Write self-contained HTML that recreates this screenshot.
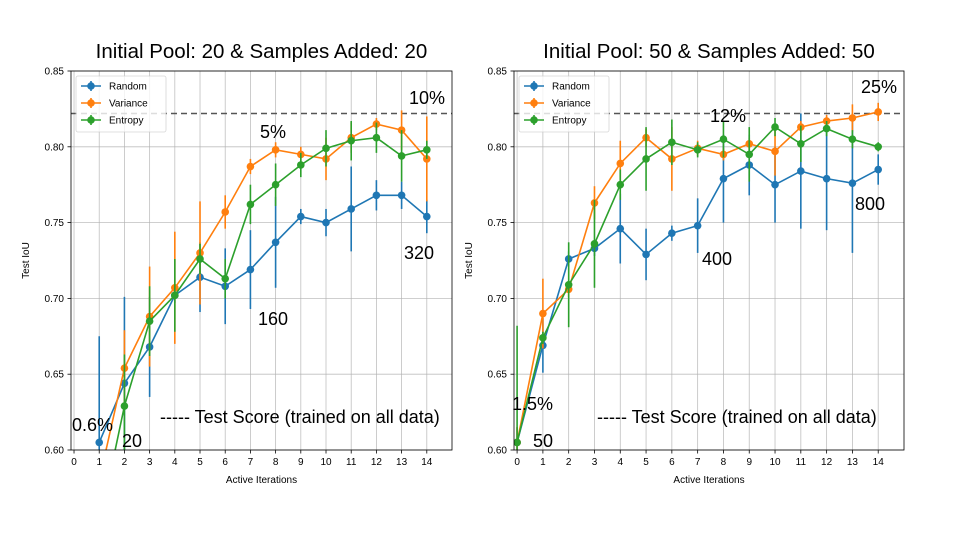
<!DOCTYPE html>
<html><head><meta charset="utf-8"><style>
body{margin:0;background:#fff;}
svg{display:block;font-family:"Liberation Sans","DejaVu Sans",sans-serif;}
</style></head><body>
<svg id="chart" width="960" height="540" xmlns="http://www.w3.org/2000/svg"></svg>
<script>
const iterations = [0,1,2,3,4,5,6,7,8,9,10,11,12,13,14];
const yTicks = [0.60,0.65,0.70,0.75,0.80,0.85];
const seriesNames = ["Random","Variance","Entropy"];
const seriesColors = ["#1f77b4","#ff7f0e","#2ca02c"];
// Left panel (pool 20), iterations 1..14
const leftX = [1,2,3,4,5,6,7,8,9,10,11,12,13,14];
const leftRandom = [0.605,0.644,0.668,0.702,0.714,0.708,0.719,0.737,0.754,0.750,0.759,0.768,0.768,0.754];
const leftRandomErr = [0.07,0.057,0.033,0.005,0.023,0.025,0.026,0.03,0.005,0.009,0.028,0.01,0.009,0.011];
const leftVariance = [0.58,0.654,0.688,0.707,0.730,0.757,0.787,0.798,0.795,0.792,0.806,0.815,0.811,0.792];
const leftVarianceErr = [0.02,0.025,0.033,0.037,0.034,0.011,0.005,0.005,0.005,0.014,0.01,0.004,0.013,0.028];
const leftEntropy = [0.55,0.629,0.685,0.702,0.726,0.713,0.762,0.775,0.788,0.799,0.804,0.806,0.794,0.798];
const leftEntropyErr = [0.02,0.034,0.023,0.024,0.01,0.013,0.013,0.014,0.008,0.012,0.013,0.01,0.017,0.006];
// Right panel (pool 50), iterations 0..14
const rightX = [0,1,2,3,4,5,6,7,8,9,10,11,12,13,14];
const rightRandom = [0.605,0.669,0.726,0.733,0.746,0.729,0.743,0.748,0.779,0.788,0.775,0.784,0.779,0.776,0.785];
const rightRandomErr = [0.01,0.018,0.005,0.005,0.023,0.017,0.005,0.018,0.029,0.02,0.025,0.038,0.034,0.046,0.01];
const rightVariance = [0.605,0.690,0.706,0.763,0.789,0.806,0.792,0.799,0.795,0.802,0.797,0.813,0.817,0.819,0.823];
const rightVarianceErr = [0.01,0.023,0.005,0.011,0.015,0.006,0.021,0.005,0.004,0.004,0.016,0.004,0.004,0.009,0.006];
const rightEntropy = [0.605,0.674,0.709,0.736,0.775,0.792,0.803,0.798,0.805,0.795,0.813,0.802,0.812,0.805,0.800];
const rightEntropyErr = [0.077,0.004,0.028,0.029,0.01,0.021,0.015,0.005,0.012,0.018,0.006,0.012,0.005,0.006,0.003];
const testScore = 0.822;

const NS="http://www.w3.org/2000/svg";
const svg=document.getElementById('chart');
function el(tag,attrs,parent,text){const e=document.createElementNS(NS,tag);for(const k in attrs)e.setAttribute(k,attrs[k]);if(text!==undefined)e.textContent=text;(parent||svg).appendChild(e);return e;}

function panel(cfg){
  const g=el('g',{});
  
  
  const L=cfg.left,R=cfg.right,T=71,B=450;
  const xs=v=>L+(v+0.12)/(15.12)*(R-L);
  const ys=v=>B-(v-0.60)/0.25*(B-T);
  const clip='clip'+cfg.name;
  const cp=el('clipPath',{id:clip},g);el('rect',{x:L,y:T,width:R-L,height:B-T},cp);
  iterations.forEach(v=>{const l=el('line',{x1:xs(v),x2:xs(v),y1:T,y2:B,stroke:'#b0b0b0','stroke-width':0.8,opacity:0.8},g);
    
    const t=el('text',{x:xs(v),y:B+15,'font-size':10,'text-anchor':'middle',fill:'#000'},g,String(v));
    
    el('line',{x1:xs(v),x2:xs(v),y1:B,y2:B+3.5,stroke:'#000','stroke-width':0.8},g);});
  yTicks.forEach(v=>{const l=el('line',{x1:L,x2:R,y1:ys(v),y2:ys(v),stroke:'#b0b0b0','stroke-width':0.8,opacity:0.8},g);
    
    const t=el('text',{x:L-7,y:ys(v)+3.5,'font-size':10,'text-anchor':'end',fill:'#000'},g,v.toFixed(2));
    
    el('line',{x1:L-3.5,x2:L,y1:ys(v),y2:ys(v),stroke:'#000','stroke-width':0.8},g);});
  const d=el('line',{x1:L,x2:R,y1:ys(testScore),y2:ys(testScore),stroke:'#555','stroke-width':1.5,'stroke-dasharray':'6,4'},g);
  
  const data=cfg.series;
  data.forEach((s,i)=>{
    const sg=el('g',{'clip-path':'url(#'+clip+')'},g);
    
    
    const c=seriesColors[i];
    s.v.forEach((v,j)=>{const x=xs(cfg.x[j]);el('line',{x1:x,x2:x,y1:ys(v-s.e[j]),y2:ys(v+s.e[j]),stroke:c,'stroke-width':1.6},sg);});
    el('polyline',{points:s.v.map((v,j)=>xs(cfg.x[j])+','+ys(v)).join(' '),fill:'none',stroke:c,'stroke-width':1.6},sg);
    s.v.forEach((v,j)=>{const p=el('circle',{cx:xs(cfg.x[j]),cy:ys(v),r:3.8,fill:c},sg);
      });
  });
  el('rect',{x:L,y:T,width:R-L,height:B-T,fill:'none',stroke:'#000','stroke-width':0.8},g);
  const lg=el('g',{},g);
  el('rect',{x:L+5,y:T+5,width:90,height:56,fill:'#fff',opacity:0.8,stroke:'#ccc','stroke-width':0.8,rx:2},lg);
  seriesNames.forEach((n,i)=>{const y=T+15+i*17;const c=seriesColors[i];
    const eg=el('g',{},lg);
    el('line',{x1:L+10,x2:L+30,y1:y,y2:y,stroke:c,'stroke-width':1.6},eg);
    el('line',{x1:L+20,x2:L+20,y1:y-5,y2:y+5,stroke:c,'stroke-width':1.6},eg);
    el('circle',{cx:L+20,cy:y,r:3.8,fill:c},eg);
    el('text',{x:L+38,y:y+3.5,'font-size':10,fill:'#000'},eg,n);});
  const t=el('text',{x:(L+R)/2,y:58,'font-size':20.5,'text-anchor':'middle',fill:'#000'},g,cfg.title);
  
  const xl=el('text',{x:(L+R)/2,y:483,'font-size':10,'text-anchor':'middle',fill:'#000'},g,'Active Iterations');
  
  const yl=el('text',{x:0,y:0,'font-size':10,'text-anchor':'middle',fill:'#000',transform:`translate(${L-42},${(T+B)/2}) rotate(-90)`},g,'Test IoU');
  
  cfg.ann.forEach(a=>{const at=el('text',{x:a[1],y:a[2],'font-size':18,fill:'#000'},g,a[0]);
    });
  const note=el('text',{x:cfg.noteX,y:423,'font-size':18,fill:'#000'},g,'----- Test Score (trained on all data)');
  
}
panel({name:'left-panel',left:71,right:452,title:'Initial Pool: 20 & Samples Added: 20',x:leftX,
  series:[{v:leftRandom,e:leftRandomErr},{v:leftVariance,e:leftVarianceErr},{v:leftEntropy,e:leftEntropyErr}],
  ann:[['0.6%',72,431],['20',122,447],['160',258,325],['5%',260,138],['10%',409,104],['320',404,259]],noteX:160});
panel({name:'right-panel',left:514,right:904,title:'Initial Pool: 50 & Samples Added: 50',x:rightX,
  series:[{v:rightRandom,e:rightRandomErr},{v:rightVariance,e:rightVarianceErr},{v:rightEntropy,e:rightEntropyErr}],
  ann:[['1.5%',512,410],['50',533,447],['400',702,265],['12%',710,122],['25%',861,93],['800',855,210]],noteX:597});
</script>
</body></html>
